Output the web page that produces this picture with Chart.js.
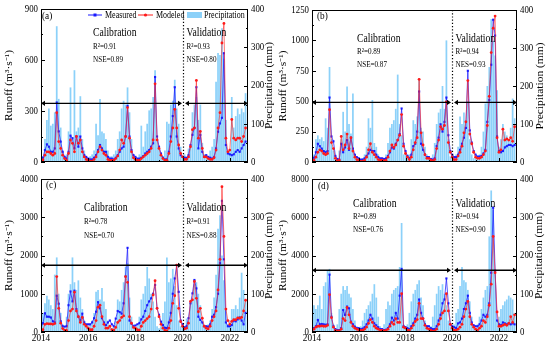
<!DOCTYPE html>
<html>
<head>
<meta charset="utf-8">
<script src="https://cdn.jsdelivr.net/npm/chart.js@4.4.1/dist/chart.umd.min.js"></script>
<style>
    body { margin: 0; background: #fff; width: 550px; height: 351px; overflow: hidden; position: relative; }
    canvas { position: absolute; }
</style>
</head>
<body>
<canvas id="chartA" width="275" height="172" style="left:0;top:0"></canvas>
<canvas id="chartB" width="275" height="172" style="left:275px;top:0"></canvas>
<canvas id="chartC" width="275" height="179" style="left:0;top:172px"></canvas>
<canvas id="chartD" width="275" height="179" style="left:275px;top:172px"></canvas>
<script>
// Monthly series, Jan 2014 - Sep 2022 (one row per year)
const startYear = 2014;
const splitYear = 2020;
const xMax = 2022.77;
const xTicks = [2014, 2016, 2018, 2020, 2022];
const precTicks = [0, 100, 200, 300, 400];

// (a)
const measA = [
    15, 25, 70, 104, 90, 60, 60, 80, 350, 180, 120, 60,
    30, 20, 60, 155, 140, 80, 150, 90, 150, 80, 40, 30,
    20, 15, 15, 25, 40, 70, 100, 80, 60, 60, 30, 20,
    20, 15, 25, 40, 60, 80, 90, 150, 330, 150, 70, 40,
    30, 20, 20, 25, 35, 50, 60, 70, 90, 110, 500, 150,
    90, 50, 25, 15, 15, 60, 150, 270, 440, 150, 80, 40,
    30, 25, 25, 40, 100, 160, 200, 440, 80, 160, 60, 30,
    40, 30, 25, 20, 30, 80, 178, 227, 260, 640, 100, 50,
    45, 40, 45, 60, 70, 60, 80, 100, 120
];
const simA = [
    8, 12, 40, 60, 60, 50, 40, 50, 290, 120, 80, 40,
    20, 10, 50, 130, 110, 60, 150, 110, 130, 60, 30, 15,
    10, 5, 5, 15, 30, 60, 90, 70, 50, 40, 15, 10,
    10, 10, 20, 35, 70, 130, 110, 150, 320, 140, 60, 25,
    15, 10, 10, 20, 30, 40, 50, 60, 80, 130, 460, 130,
    80, 40, 20, 10, 10, 50, 120, 200, 310, 200, 100, 50,
    30, 15, 15, 30, 90, 190, 200, 480, 140, 180, 80, 30,
    30, 20, 15, 15, 25, 70, 200, 290, 700, 815, 140, 60,
    70, 250, 140, 130, 140, 140, 120, 150, 200
];
const precA = [
    10, 15, 60, 110, 140, 95, 100, 130, 355, 165, 90, 30,
    15, 20, 80, 195, 60, 240, 80, 90, 172, 60, 30, 15,
    10, 15, 20, 30, 100, 70, 165, 80, 75, 60, 30, 15,
    15, 20, 30, 60, 80, 140, 160, 150, 195, 130, 60, 20,
    15, 10, 20, 95, 40, 80, 100, 135, 140, 170, 240, 60,
    40, 20, 15, 30, 105, 100, 150, 160, 215, 140, 100, 40,
    15, 20, 10, 35, 40, 130, 150, 170, 110, 150, 50, 20,
    20, 10, 30, 40, 60, 210, 285, 280, 350, 270, 110, 20,
    30, 170, 90, 120, 140, 125, 140, 130, 180
];
const yTicksA = [0, 300, 600, 900];

// (b)
const measB = [
    30, 35, 80, 150, 130, 110, 90, 80, 90, 530, 210, 170,
    50, 25, 20, 150, 80, 120, 180, 100, 200, 110, 60, 40,
    30, 20, 20, 30, 50, 70, 100, 90, 90, 60, 40, 30,
    30, 25, 30, 50, 80, 120, 110, 150, 180, 230, 440, 150,
    90, 50, 30, 60, 130, 150, 250, 580, 150, 100, 60, 40,
    40, 25, 20, 30, 130, 200, 310, 250, 330, 530, 220, 90,
    60, 40, 40, 60, 100, 150, 200, 280, 750, 260, 160, 90,
    60, 45, 45, 50, 70, 100, 330, 510, 800, 1170, 1040, 210,
    90, 80, 90, 120, 130, 140, 140, 130, 140
];
const simB = [
    10, 15, 40, 80, 100, 90, 70, 60, 70, 430, 160, 110,
    30, 10, 15, 210, 100, 140, 230, 110, 200, 90, 40, 20,
    15, 5, 5, 15, 40, 100, 150, 80, 60, 40, 20, 15,
    15, 10, 15, 40, 90, 140, 120, 140, 180, 220, 390, 130,
    70, 40, 20, 40, 100, 160, 200, 680, 240, 140, 60, 30,
    30, 15, 10, 20, 110, 180, 290, 270, 300, 495, 160, 80,
    40, 20, 20, 50, 80, 130, 240, 330, 670, 230, 150, 80,
    40, 30, 30, 40, 60, 90, 300, 540, 900, 1100, 1200, 200,
    80, 100, 270, 180, 190, 180, 200, 170, 290
];
const precB = [
    15, 20, 60, 70, 60, 65, 55, 115, 90, 250, 60, 30,
    15, 10, 30, 60, 132, 80, 199, 100, 75, 180, 20, 10,
    10, 5, 10, 20, 40, 115, 90, 163, 50, 40, 20, 10,
    10, 10, 20, 50, 90, 100, 110, 140, 230, 100, 70, 20,
    20, 10, 20, 60, 110, 100, 120, 220, 90, 80, 40, 20,
    15, 10, 20, 50, 100, 130, 140, 200, 140, 320, 60, 15,
    10, 10, 20, 40, 120, 100, 130, 110, 160, 60, 20, 10,
    10, 10, 20, 40, 80, 154, 200, 250, 376, 319, 280, 189,
    40, 60, 100, 80, 70, 60, 90, 167, 115
];
const yTicksB = [0, 250, 500, 750, 1000, 1250];

// (c)
const measC = [
    120, 230, 490, 400, 400, 380, 280, 250, 950, 740, 280, 150,
    140, 150, 700, 1060, 800, 1080, 600, 400, 300, 480, 250, 200,
    200, 200, 250, 360, 530, 780, 620, 360, 250, 180, 250, 300,
    200, 150, 350, 550, 520, 480, 750, 1450, 2200, 300, 220, 150,
    170, 200, 230, 330, 400, 550, 700, 800, 880, 1000, 1230, 620,
    450, 270, 180, 110, 100, 250, 500, 1000, 1400, 1750, 1050, 300,
    200, 120, 150, 360, 750, 1010, 1360, 1140, 400, 315, 250, 150,
    150, 140, 200, 400, 450, 650, 1000, 1800, 3430, 1900, 250, 150,
    150, 180, 300, 280, 330, 380, 300, 200, 500
];
const simC = [
    30, 60, 200, 220, 210, 210, 200, 220, 1450, 620, 230, 90,
    50, 40, 300, 550, 600, 1040, 550, 400, 250, 380, 200, 150,
    100, 60, 60, 150, 300, 650, 700, 400, 200, 100, 100, 150,
    60, 50, 120, 250, 300, 380, 420, 1450, 1300, 400, 230, 120,
    100, 60, 50, 150, 250, 300, 350, 400, 600, 970, 1340, 620,
    400, 200, 100, 40, 30, 100, 300, 750, 950, 1750, 620, 270,
    150, 80, 100, 230, 800, 840, 1320, 880, 530, 620, 360, 150,
    100, 80, 150, 300, 400, 550, 1100, 1900, 3800, 2500, 600, 300,
    200, 280, 320, 320, 370, 360, 380, 550, 830
];
const precC = [
    20, 50, 75, 95, 85, 70, 60, 150, 195, 100, 50, 20,
    10, 40, 100, 125, 195, 130, 110, 135, 90, 60, 30, 15,
    15, 20, 30, 50, 105, 110, 85, 115, 80, 60, 30, 15,
    10, 15, 30, 85, 80, 110, 130, 170, 180, 90, 40, 20,
    10, 15, 40, 85, 100, 120, 170, 140, 100, 80, 40, 15,
    10, 15, 50, 80, 195, 130, 140, 165, 120, 70, 30, 15,
    20, 15, 35, 30, 75, 85, 125, 130, 100, 70, 30, 15,
    10, 20, 30, 60, 90, 150, 270, 305, 200, 135, 60, 20,
    30, 60, 60, 70, 60, 90, 155, 110, 80
];
const yTicksC = [0, 1000, 2000, 3000, 4000];

// (d)
const measD = [
    150, 200, 300, 630, 400, 420, 400, 380, 400, 3000, 800, 300,
    150, 100, 100, 200, 1150, 890, 1330, 1240, 540, 400, 280, 200,
    200, 150, 180, 250, 400, 600, 900, 700, 450, 350, 250, 150,
    150, 100, 120, 200, 400, 750, 600, 1000, 700, 1900, 3300, 300,
    250, 200, 150, 300, 450, 700, 900, 1700, 1000, 700, 400, 300,
    300, 200, 150, 150, 300, 600, 900, 1500, 1700, 2800, 1500, 400,
    300, 250, 200, 450, 500, 700, 1200, 1500, 1900, 1000, 500, 350,
    300, 300, 400, 600, 900, 800, 900, 1500, 3100, 6500, 3200, 600,
    400, 350, 500, 450, 400, 450, 400, 450, 400
];
const simD = [
    100, 150, 250, 300, 300, 320, 300, 300, 350, 1950, 750, 250,
    80, 60, 60, 150, 700, 600, 1280, 900, 500, 300, 200, 150,
    100, 80, 90, 150, 250, 450, 650, 500, 300, 200, 150, 80,
    80, 60, 80, 150, 300, 500, 400, 700, 500, 500, 2000, 250,
    200, 100, 80, 200, 350, 550, 650, 1500, 700, 700, 350, 200,
    150, 100, 50, 60, 150, 400, 700, 1000, 1100, 2000, 1100, 400,
    200, 100, 80, 150, 250, 400, 800, 1200, 1600, 800, 400, 250,
    150, 100, 200, 300, 600, 500, 800, 1400, 2500, 5000, 3100, 1050,
    300, 300, 350, 400, 350, 450, 800, 500, 900
];
const precD = [
    20, 70, 60, 70, 95, 60, 120, 130, 160, 165, 50, 20,
    10, 20, 60, 100, 120, 110, 120, 100, 90, 60, 30, 15,
    10, 15, 30, 50, 60, 70, 80, 100, 125, 90, 40, 15,
    10, 20, 60, 80, 70, 100, 110, 115, 120, 170, 285, 20,
    15, 20, 50, 80, 100, 110, 125, 135, 90, 70, 30, 15,
    10, 15, 40, 70, 100, 120, 110, 125, 100, 70, 30, 15,
    10, 20, 50, 60, 120, 170, 135, 130, 110, 80, 40, 15,
    10, 20, 40, 60, 90, 110, 120, 250, 370, 320, 160, 30,
    40, 60, 70, 80, 85, 95, 90, 85, 50
];
const yTicksD = [0, 2000, 4000, 6000, 8000];

const monthX = measA.map((_, i) => startYear + i / 12);

const SERIF = "'Liberation Serif', 'Times New Roman', serif";
const SQUEEZE = 0.84;   // the source figure is a little narrow
Chart.defaults.font.family = SERIF;
Chart.defaults.color = '#000';

const BLUE = '#1a1aff';
const RED = '#ff1a1a';
const SKY = 'rgba(128,204,248,0.9)';

// horizontally condensed text
function text(ctx, str, x, y, align, size) {
    ctx.save();
    ctx.font = size + 'px ' + SERIF;
    ctx.textAlign = align;
    ctx.textBaseline = 'middle';
    ctx.translate(x, y);
    ctx.scale(SQUEEZE, 1);
    ctx.fillText(str, 0, 0);
    ctx.restore();
}

function vtext(ctx, str, x, y, size) {
    ctx.save();
    ctx.font = size + 'px ' + SERIF;
    ctx.textAlign = 'center';
    ctx.textBaseline = 'middle';
    ctx.translate(x, y);
    ctx.rotate(-Math.PI / 2);
    ctx.scale(1, SQUEEZE);
    ctx.fillText(str, 0, 0);
    ctx.restore();
}

function arrowLine(ctx, x1, x2, y) {
    const h = 4, w = 2.6;
    ctx.beginPath();
    ctx.moveTo(x1 + h, y);
    ctx.lineTo(x2 - h, y);
    ctx.stroke();
    ctx.beginPath();
    ctx.moveTo(x1, y); ctx.lineTo(x1 + h, y - w); ctx.lineTo(x1 + h, y + w); ctx.closePath();
    ctx.moveTo(x2, y); ctx.lineTo(x2 - h, y - w); ctx.lineTo(x2 - h, y + w); ctx.closePath();
    ctx.fill();
}

function decoFor(p) {
    return {
        id: 'deco' + p.tag,
        afterDatasetsDraw(chart) {
            const { ctx, chartArea: a, scales } = chart;
            const x = scales.x, y = scales.y, y1 = scales.y1;
            ctx.save();
            ctx.strokeStyle = '#000';
            ctx.fillStyle = '#000';

            // split between calibration and validation
            const xs = Math.round(x.getPixelForValue(splitYear)) + 0.5;
            ctx.lineWidth = 1.2;
            ctx.setLineDash([1.2, 2]);
            ctx.beginPath();
            ctx.moveTo(xs, a.top);
            ctx.lineTo(xs, a.bottom);
            ctx.stroke();
            ctx.setLineDash([]);

            // period arrows
            const ya = y.getPixelForValue(p.arrow);
            ctx.lineWidth = 1.4;
            arrowLine(ctx, a.left, xs - 1.5, ya);
            arrowLine(ctx, xs + 1.5, a.right, ya);

            // frame
            ctx.lineWidth = 1;
            ctx.strokeRect(a.left + 0.5, a.top + 0.5, a.right - a.left - 1, a.bottom - a.top - 1);

            // inward ticks
            const step = p.yTicks[1] - p.yTicks[0];
            ctx.beginPath();
            p.yTicks.forEach((v, k) => {
                const py = Math.round(y.getPixelForValue(v)) + 0.5;
                ctx.moveTo(a.left, py); ctx.lineTo(a.left + 4, py);
                if (k > 0) {
                    const pm = Math.round(y.getPixelForValue(v - step / 2)) + 0.5;
                    ctx.moveTo(a.left, pm); ctx.lineTo(a.left + 2, pm);
                }
            });
            precTicks.forEach((v, k) => {
                const py = Math.round(y1.getPixelForValue(v)) + 0.5;
                ctx.moveTo(a.right, py); ctx.lineTo(a.right - 4, py);
                if (k > 0) {
                    const pm = Math.round(y1.getPixelForValue(v - 50)) + 0.5;
                    ctx.moveTo(a.right, pm); ctx.lineTo(a.right - 2, pm);
                }
            });
            for (let yr = 2014; yr <= 2022; yr++) {
                const px = Math.round(x.getPixelForValue(yr)) + 0.5;
                const len = yr % 2 === 0 ? 4 : 2;
                ctx.moveTo(px, a.bottom); ctx.lineTo(px, a.bottom - len);
            }
            ctx.stroke();

            // tick labels
            p.yTicks.forEach(v => text(ctx, String(v), a.left - 3, y.getPixelForValue(v), 'right', 10.5));
            precTicks.forEach(v => text(ctx, String(v), a.right + 3, y1.getPixelForValue(v), 'left', 10.5));
            if (p.xLabels) {
                xTicks.forEach(v => text(ctx, String(v), x.getPixelForValue(v), a.bottom + 6.5, 'center', 11));
            }

            // axis titles
            const midY = (a.top + a.bottom) / 2;
            vtext(ctx, 'Runoff (m³·s⁻¹)', p.leftTitleX, midY, 11.5);
            vtext(ctx, 'Precipitation (mm)', p.rightTitleX, midY, 11.5);

            // panel texts
            text(ctx, p.label, p.labelPos[0], p.labelPos[1], 'left', 11);
            text(ctx, 'Calibration', p.cal[0], p.cal[1], 'left', 11.5);
            text(ctx, 'Validation', xs + 3, p.cal[1], 'left', 11.5);
            text(ctx, p.calStats[0], p.cal[0], p.cal[1] + p.gap, 'left', 8.5);
            text(ctx, p.calStats[1], p.cal[0], p.cal[1] + 2 * p.gap, 'left', 8.5);
            text(ctx, p.valStats[0], xs + 3, p.cal[1] + p.gap, 'left', 8.5);
            text(ctx, p.valStats[1], xs + 3, p.cal[1] + 2 * p.gap, 'left', 8.5);

            // legend, panel (a) only
            if (p.legend) {
                const ly = 15;
                ctx.lineWidth = 1;
                ctx.strokeStyle = BLUE;
                ctx.beginPath(); ctx.moveTo(88, ly); ctx.lineTo(102, ly); ctx.stroke();
                ctx.fillStyle = BLUE;
                ctx.fillRect(93.5, ly - 1.5, 3, 3);
                ctx.strokeStyle = RED;
                ctx.beginPath(); ctx.moveTo(138, ly); ctx.lineTo(153, ly); ctx.stroke();
                ctx.fillStyle = RED;
                ctx.beginPath(); ctx.arc(145.5, ly, 1.6, 0, Math.PI * 2); ctx.fill();
                ctx.fillStyle = SKY;
                ctx.fillRect(187, 12, 15, 6);
                ctx.fillStyle = '#000';
                text(ctx, 'Measured', 105, ly, 'left', 9.5);
                text(ctx, 'Modeled', 156, ly, 'left', 9.5);
                text(ctx, 'Precipitation', 204, ly, 'left', 9.5);
            }
            ctx.restore();
        }
    };
}

function makePanel(p) {
    const pts = vals => vals.map((v, i) => ({ x: monthX[i], y: v }));
    new Chart(document.getElementById(p.id), {
        type: 'bar',
        data: {
            datasets: [
                {
                    type: 'line', label: 'Modeled', data: pts(p.sim), yAxisID: 'y', order: 1,
                    borderColor: 'rgba(255,40,40,0.8)', borderWidth: 0.8,
                    pointStyle: 'circle', pointRadius: 1.4, pointBorderWidth: 0,
                    pointBackgroundColor: RED
                },
                {
                    type: 'line', label: 'Measured', data: pts(p.meas), yAxisID: 'y', order: 2,
                    borderColor: 'rgba(30,30,255,0.85)', borderWidth: 0.9,
                    pointStyle: 'rect', pointRadius: 1.5, pointBorderWidth: 0,
                    pointBackgroundColor: BLUE
                },
                {
                    type: 'bar', label: 'Precipitation', data: pts(p.prec), yAxisID: 'y1', order: 3,
                    backgroundColor: SKY, barPercentage: 0.88, categoryPercentage: 1
                }
            ]
        },
        options: {
            responsive: false,
            animation: false,
            layout: { padding: { top: p.top, left: 0, right: 0, bottom: 0 } },
            plugins: { legend: { display: false }, tooltip: { enabled: false } },
            scales: {
                x: {
                    type: 'linear', min: startYear, max: xMax, offset: false,
                    grid: { display: false, drawTicks: false, offset: false },
                    border: { display: false },
                    ticks: { display: false },
                    afterFit: s => { s.height = p.xH; }
                },
                y: {
                    position: 'left', min: 0, max: p.yTicks[p.yTicks.length - 1],
                    grid: { display: false, drawTicks: false },
                    border: { display: false },
                    ticks: { display: false },
                    afterFit: s => { s.width = p.leftW; }
                },
                y1: {
                    position: 'right', min: 0, max: 400,
                    grid: { display: false, drawTicks: false },
                    border: { display: false },
                    ticks: { display: false },
                    afterFit: s => { s.width = p.rightW; }
                }
            }
        },
        plugins: [decoFor(p)]
    });
}

makePanel({
    id: 'chartA', tag: 'A', meas: measA, sim: simA, prec: precA, yTicks: yTicksA, arrow: 345,
    top: 9, xH: 10, leftW: 41, rightW: 27, xLabels: false,
    leftTitleX: 9, rightTitleX: 269, label: '(a)', labelPos: [42, 16],
    cal: [93, 33], gap: 13.5, calStats: ['R²=0.91', 'NSE=0.89'], valStats: ['R²=0.93', 'NSE=0.80'],
    legend: true
});
makePanel({
    id: 'chartB', tag: 'B', meas: measB, sim: simB, prec: precB, yTicks: yTicksB, arrow: 490,
    top: 10, xH: 10, leftW: 37, rightW: 33, xLabels: false,
    leftTitleX: 8, rightTitleX: 265, label: '(b)', labelPos: [42, 16],
    cal: [82, 39], gap: 12.7, calStats: ['R²=0.89', 'NSE=0.87'], valStats: ['R²=0.94', 'NES=0.93'],
    legend: false
});
makePanel({
    id: 'chartC', tag: 'C', meas: measC, sim: simC, prec: precC, yTicks: yTicksC, arrow: 1745,
    top: 7, xH: 19, leftW: 41, rightW: 27, xLabels: true,
    leftTitleX: 9, rightTitleX: 269, label: '(c)', labelPos: [46, 13],
    cal: [84, 36], gap: 14, calStats: ['R²=0.78', 'NSE=0.70'], valStats: ['R²=0.91', 'NES=0.88'],
    legend: false
});
makePanel({
    id: 'chartD', tag: 'D', meas: measD, sim: simD, prec: precD, yTicks: yTicksD, arrow: 3230,
    top: 7, xH: 19, leftW: 37, rightW: 33, xLabels: true,
    leftTitleX: 8, rightTitleX: 264, label: '(d)', labelPos: [43, 14],
    cal: [78, 32], gap: 13, calStats: ['R²=0.89', 'NSE=0.76'], valStats: ['R²=0.94', 'NES=0.90'],
    legend: false
});
</script>
</body>
</html>
